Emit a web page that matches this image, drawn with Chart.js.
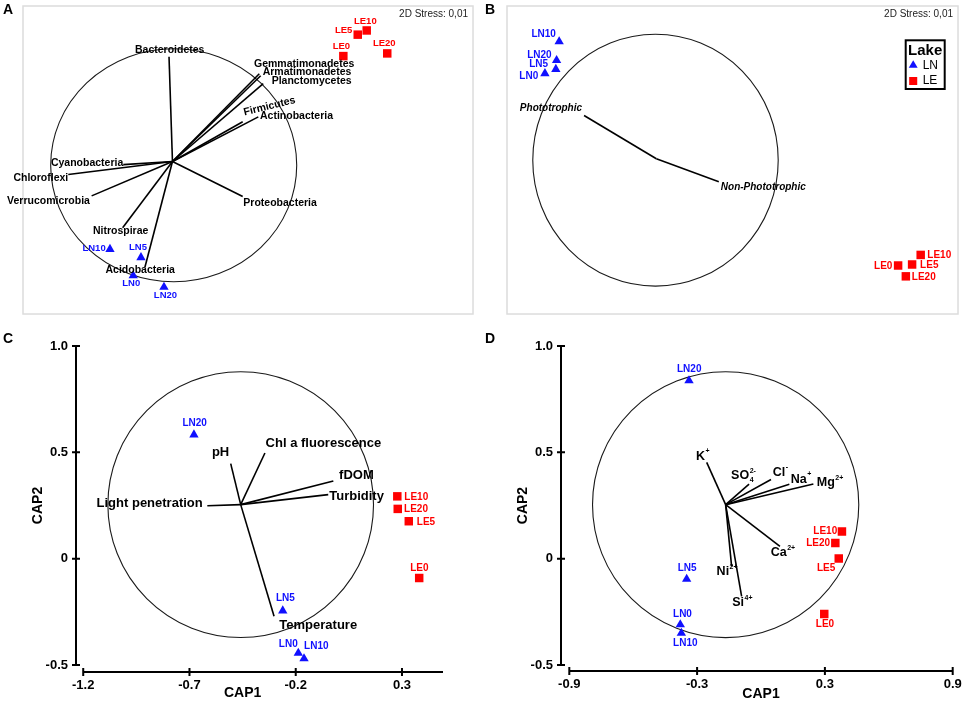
<!DOCTYPE html>
<html>
<head>
<meta charset="utf-8">
<title>nMDS and CAP ordinations</title>
<script src="https://cdn.jsdelivr.net/npm/chart.js@4.4.1/dist/chart.umd.min.js"></script>
<style>
  body { margin: 0; background: #fff; }
  #wrap { position: relative; width: 964px; height: 705px; overflow: hidden; font-family: 'Liberation Sans', Arial, sans-serif; }
  canvas { position: absolute; }
  .letter { position: absolute; font-size: 14px; font-weight: bold; line-height: 14px; z-index: 2; }
</style>
</head>
<body>
<div id="wrap">
  <canvas id="chartA" width="480" height="320" style="left:0;top:0"></canvas>
  <canvas id="chartB" width="484" height="320" style="left:480px;top:0"></canvas>
  <canvas id="chartC" width="480" height="385" style="left:0;top:320px"></canvas>
  <canvas id="chartD" width="484" height="385" style="left:480px;top:320px"></canvas>
  <div class="letter" style="left:3px;top:2px">A</div>
  <div class="letter" style="left:485px;top:2px">B</div>
  <div class="letter" style="left:3px;top:331px">C</div>
  <div class="letter" style="left:485px;top:331px">D</div>
</div>
<script>
// sample names, same order in every panel
const lnNames = ['LN0', 'LN5', 'LN10', 'LN20'];
const leNames = ['LE0', 'LE5', 'LE10', 'LE20'];

// A - nMDS of phyla
const aLnX = [-0.319, -0.256, -0.508, -0.069];
const aLnY = [-0.979, -0.824, -0.753, -1.078];
const aLeX = [1.389, 1.506, 1.579, 1.746];
const aLeY = [0.905, 1.089, 1.125, 0.928];
const aVecNames = ['Bacteroidetes', 'Gemmatimonadetes', 'Armatimonadetes', 'Planctomycetes', 'Firmicutes', 'Actinobacteria',
    'Proteobacteria', 'Cyanobacteria', 'Chloroflexi', 'Verrucomicrobia', 'Nitrospirae', 'Acidobacteria'];
const aVecX = [-0.028, 0.706, 0.717, 0.738, 0.571, 0.698, 0.571, -0.400, -0.847, -0.657, -0.405, -0.224];
const aVecY = [0.900, 0.753, 0.736, 0.668, 0.341, 0.383, -0.301, -0.027, -0.112, -0.295, -0.569, -0.908];
const aOrigin = [0, 0];
const aCircle = [0.01, -0.032, 1.0];

// B - nMDS of trophic groups
const bLnX = [-0.908, -0.819, -0.792, -0.813];
const bLnY = [0.677, 0.711, 0.930, 0.781];
const bLeX = [1.970, 2.084, 2.154, 2.033];
const bLeY = [-0.847, -0.839, -0.763, -0.933];
const bVecNames = ['Phototrophic', 'Non-Phototrophic'];
const bVecX = [-0.589, 0.509];
const bVecY = [0.344, -0.183];
const bOrigin = [0, 0];
const bCircle = [-0.007, -0.011, 1.0];

const stressText = '2D Stress: 0,01';
const legendTitle = 'Lake';

// C - CAP, physical variables
const cLnX = [-0.188, -0.261, -0.161, -0.679];
const cLnY = [-0.444, -0.245, -0.470, 0.583];
const cLeX = [0.381, 0.332, 0.278, 0.280];
const cLeY = [-0.091, 0.176, 0.293, 0.234];
const cVecNames = ['pH', 'Chl a fluorescence', 'fDOM', 'Turbidity', 'Light penetration', 'Temperature'];
const cVecX = [-0.506, -0.345, -0.023, -0.047, -0.616, -0.302];
const cVecY = [0.447, 0.497, 0.365, 0.301, 0.249, -0.271];
const cOrigin = [-0.459, 0.254];
const cCircle = [-0.459, 0.254, 0.625];
const cXTicks = [-1.2, -0.7, -0.2, 0.3];
const cXTickLabels = ['-1.2', '-0.7', '-0.2', '0.3'];

// D - CAP, ions
const dLnX = [-0.379, -0.349, -0.374, -0.338];
const dLnY = [-0.310, -0.096, -0.350, 0.837];
const dLeX = [0.297, 0.365, 0.380, 0.349];
const dLeY = [-0.260, 0.001, 0.128, 0.074];
const dVecBase = ['K', 'SO', 'Cl', 'Na', 'Mg', 'Ca', 'Ni', 'Si'];
const dVecSub = ['', '4', '', '', '', '', '', ''];
const dVecSup = ['+', '2-', '-', '+', '2+', '2+', '2+', '4+'];
const dVecX = [-0.255, -0.056, 0.047, 0.133, 0.246, 0.089, -0.138, -0.091];
const dVecY = [0.453, 0.351, 0.372, 0.350, 0.351, 0.058, -0.036, -0.177];
const dOrigin = [-0.166, 0.254];
const dCircle = [-0.166, 0.254, 0.625];
const dXTicks = [-0.9, -0.3, 0.3, 0.9];
const dXTickLabels = ['-0.9', '-0.3', '0.3', '0.9'];

const capYTicks = [-0.5, 0, 0.5, 1.0];
const capYTickLabels = ['-0.5', '0', '0.5', '1.0'];
const capXTitle = 'CAP1';
const capYTitle = 'CAP2';

// label placement: [align, dx px, dy px, rotation deg]
const aLnPlace = [['center', -2, 8.3], ['center', -3, -10], ['right', -4.3, -0.6], ['center', 1.5, 8]];
const aLePlace = [['center', -2, -9.4], ['right', -5.4, -4.3], ['center', -1.4, -9.4], ['center', -3, -10]];
const aVecPlace = [['center', 0.7, -6.6], ['left', -5.3, -10], ['left', 2, -4], ['left', 8.4, -2.7], ['left', 1, -9, -14],
    ['left', 1.7, -0.6], ['left', 0.6, 6.3], ['right', 0, -2], ['right', 0, 4], ['right', -1.7, 5], ['center', -2, 3.3], ['center', -4.7, 2.6]];
const bLnPlace = [['right', -6.7, 3], ['right', -7.7, -4.6], ['right', -3.3, -7], ['right', -5, -5]];
const bLePlace = [['right', -5.7, 0.6], ['left', 8, 1], ['left', 6.6, 0.7], ['left', 6, 0.6]];
const bVecPlace = [['right', -2, -7.6], ['left', 2, 5.6]];
const cLnPlace = [['center', -10, -9], ['center', 2.6, -12.7], ['center', 12.3, -12.3], ['center', 0.7, -11.3]];
const cLePlace = [['center', 0.2, -10], ['left', 8, 0.6], ['left', 7, 0.6], ['left', 6.3, 0.7]];
const cVecPlace = [['right', -1.5, -10.7], ['left', 0.7, -10], ['left', 5.7, -5.6], ['left', 1, 1.7], ['right', -4.6, -2.7], ['left', 5.3, 9.3]];
const dLnPlace = [['center', 2.2, -10], ['center', 0.5, -11], ['center', 4, 10], ['center', 0.2, -11.7]];
const dLePlace = [['center', 0.7, 10], ['center', -12.7, 10], ['right', -4.7, 0], ['right', -5.3, 0]];
const dVecPlace = [[-10.7, -6], [-18, -8.3], [1.7, -7.3], [1.4, -4.7], [3.4, -1], [-9.3, 6.6], [-15, 5.6], [-9.4, 6.6]];

const BLUE = '#1010ff';
const RED = '#ff0000';
const FONT = "'Liberation Sans', Arial, sans-serif";

function pts(xs, ys) {
    return xs.map((x, i) => ({ x: x, y: ys[i] }));
}

function sampleSets(lnX, lnY, leX, leY) {
    return [
        { label: 'LN', data: pts(lnX, lnY), pointStyle: 'triangle', pointRadius: 5.4, backgroundColor: BLUE, borderColor: BLUE, borderWidth: 0 },
        { label: 'LE', data: pts(leX, leY), pointStyle: 'rect', pointRadius: 6, backgroundColor: RED, borderColor: RED, borderWidth: 0 }
    ];
}

function vectorSets(origin, vx, vy) {
    return vx.map((x, i) => ({
        label: 'v' + i,
        data: [{ x: origin[0], y: origin[1] }, { x: x, y: vy[i] }],
        showLine: true,
        borderColor: '#000',
        borderWidth: 1.6,
        pointRadius: 0
    }));
}

function drawLabels(ctx, sx, sy, names, xs, ys, place, font, color) {
    ctx.font = font;
    ctx.fillStyle = color;
    ctx.textBaseline = 'middle';
    names.forEach((n, i) => {
        const p = place[i];
        const px = sx.getPixelForValue(xs[i]) + p[1];
        const py = sy.getPixelForValue(ys[i]) + p[2];
        ctx.textAlign = p[0];
        if (p[3]) {
            ctx.save();
            ctx.translate(px, py);
            ctx.rotate(p[3] * Math.PI / 180);
            ctx.fillText(n, 0, 0);
            ctx.restore();
        } else {
            ctx.fillText(n, px, py);
        }
    });
}

// circle, box, labels, axes and legend on top of the scatter
function overlay(cfg) {
    return {
        id: 'overlay',
        beforeDatasetsDraw(chart) {
            const { ctx, chartArea: ca, scales: { x, y } } = chart;
            ctx.save();
            if (cfg.box) {
                ctx.strokeStyle = '#dcdcdc';
                ctx.lineWidth = 1.5;
                ctx.strokeRect(ca.left, ca.top, ca.right - ca.left, ca.bottom - ca.top);
            }
            const c = cfg.circle;
            const cx = x.getPixelForValue(c[0]);
            const cy = y.getPixelForValue(c[1]);
            const rx = x.getPixelForValue(c[0] + c[2]) - cx;
            const ry = cy - y.getPixelForValue(c[1] + c[2]);
            ctx.beginPath();
            ctx.ellipse(cx, cy, rx, ry, 0, 0, Math.PI * 2);
            ctx.strokeStyle = '#1a1a1a';
            ctx.lineWidth = 1.1;
            ctx.stroke();
            ctx.restore();
        },
        afterDatasetsDraw(chart) {
            const { ctx, chartArea: ca, scales: { x, y } } = chart;
            ctx.save();
            const sf = 'bold ' + cfg.sampleSize + 'px ' + FONT;
            drawLabels(ctx, x, y, lnNames, cfg.ln[0], cfg.ln[1], cfg.lnPlace, sf, BLUE);
            drawLabels(ctx, x, y, leNames, cfg.le[0], cfg.le[1], cfg.lePlace, sf, RED);
            if (cfg.vecNames) {
                drawLabels(ctx, x, y, cfg.vecNames, cfg.vec[0], cfg.vec[1], cfg.vecPlace, cfg.vecFont, '#000');
            }
            if (cfg.ions) {
                ctx.fillStyle = '#000';
                ctx.textBaseline = 'middle';
                ctx.textAlign = 'left';
                dVecBase.forEach((b, i) => {
                    const px = x.getPixelForValue(dVecX[i]) + dVecPlace[i][0];
                    const py = y.getPixelForValue(dVecY[i]) + dVecPlace[i][1];
                    ctx.font = 'bold 12.5px ' + FONT;
                    ctx.fillText(b, px, py);
                    const w = ctx.measureText(b).width + 0.5;
                    ctx.font = 'bold 7px ' + FONT;
                    ctx.fillText(dVecSup[i], px + w, py - 5);
                    if (dVecSub[i]) ctx.fillText(dVecSub[i], px + w, py + 4);
                });
            }
            if (cfg.stress) {
                ctx.font = '10px ' + FONT;
                ctx.fillStyle = '#222';
                ctx.textAlign = 'right';
                ctx.textBaseline = 'middle';
                ctx.fillText(stressText, ca.right - 5, ca.top + 8.5);
            }
            ctx.restore();
        },
        afterDraw(chart) {
            const { ctx, chartArea: ca, scales: { x, y } } = chart;
            ctx.save();
            if (cfg.axes) {
                const xt = cfg.xTicks;
                const axY = ca.bottom, axX = ca.left;
                const yTop = y.getPixelForValue(capYTicks[capYTicks.length - 1]);
                const yBot = y.getPixelForValue(capYTicks[0]);
                const xL = x.getPixelForValue(xt[0]);
                ctx.strokeStyle = '#000';
                ctx.lineWidth = 2;
                ctx.beginPath();
                ctx.moveTo(axX, yTop); ctx.lineTo(axX, yBot);
                ctx.moveTo(xL, axY); ctx.lineTo(ca.right, axY);
                capYTicks.forEach(v => {
                    const p = y.getPixelForValue(v);
                    ctx.moveTo(axX - 4, p); ctx.lineTo(axX + 4, p);
                });
                xt.forEach(v => {
                    const p = x.getPixelForValue(v);
                    ctx.moveTo(p, axY - 4); ctx.lineTo(p, axY + 4);
                });
                ctx.stroke();
                ctx.font = 'bold 14px ' + FONT;
                ctx.fillStyle = '#000';
                ctx.textAlign = 'center';
                ctx.textBaseline = 'middle';
                ctx.fillText(capXTitle, (xL + x.getPixelForValue(xt[xt.length - 1])) / 2, axY + cfg.xTitleGap);
                ctx.translate(axX - 38, (yTop + yBot) / 2);
                ctx.rotate(-Math.PI / 2);
                ctx.fillText(capYTitle, 0, 0);
            }
            if (cfg.legend) {
                const bx = ca.right - 52.3, by = ca.top + 34.3;
                ctx.strokeStyle = '#000';
                ctx.lineWidth = 2;
                ctx.strokeRect(bx, by, 39, 48.7);
                ctx.fillStyle = '#000';
                ctx.textBaseline = 'middle';
                ctx.textAlign = 'center';
                ctx.font = 'bold 15px ' + FONT;
                ctx.fillText(legendTitle, bx + 19.5, by + 10.5);
                ctx.textAlign = 'left';
                ctx.font = '12px ' + FONT;
                chart.data.datasets.slice(0, 2).forEach((ds, i) => {
                    const ly = by + 25 + i * 15.7;
                    ctx.fillStyle = ds.backgroundColor;
                    Chart.helpers.drawPoint(ctx, { pointStyle: ds.pointStyle, radius: ds.pointRadius * 0.95, rotation: 0, borderWidth: 0 }, bx + 7.5, ly);
                    ctx.fillStyle = '#000';
                    ctx.fillText(ds.label, bx + 17, ly);
                });
            }
            ctx.restore();
        }
    };
}

function hiddenScales(xr, yr) {
    return {
        x: { type: 'linear', display: false, min: xr[0], max: xr[1] },
        y: { type: 'linear', display: false, min: yr[0], max: yr[1] }
    };
}

function capScales(xr, yr, xTicks, xLabels, yWidth, xHeight) {
    const tickFont = { family: FONT, size: 13, weight: 'bold' };
    const grid = { display: true, drawOnChartArea: false, drawTicks: true, tickLength: 6, color: 'rgba(0,0,0,0)' };
    return {
        x: {
            type: 'linear', min: xr[0], max: xr[1],
            afterBuildTicks: s => { s.ticks = xTicks.map(v => ({ value: v })); },
            afterFit: s => { s.height = xHeight; },
            ticks: { callback: (v, i) => xLabels[i], font: tickFont, color: '#000', padding: 0, maxRotation: 0, autoSkip: false },
            grid: grid,
            border: { display: false }
        },
        y: {
            type: 'linear', min: yr[0], max: yr[1],
            afterBuildTicks: s => { s.ticks = capYTicks.map(v => ({ value: v })); },
            afterFit: s => { s.width = yWidth; },
            ticks: { callback: (v, i) => capYTickLabels[i], font: tickFont, color: '#000', padding: 2, autoSkip: false },
            grid: grid,
            border: { display: false }
        }
    };
}

function makeChart(id, datasets, scales, padding, cfg) {
    return new Chart(document.getElementById(id), {
        type: 'scatter',
        data: { datasets: datasets },
        options: {
            responsive: false,
            animation: false,
            layout: { padding: padding },
            plugins: { legend: { display: false }, tooltip: { enabled: false } },
            scales: scales
        },
        plugins: [overlay(cfg)]
    });
}

makeChart('chartA',
    sampleSets(aLnX, aLnY, aLeX, aLeY).concat(vectorSets(aOrigin, aVecX, aVecY)),
    hiddenScales([-1.215, 2.443], [-1.309, 1.335]),
    { left: 23, top: 2, right: 7, bottom: 6 },
    { box: true, stress: true, circle: aCircle, ln: [aLnX, aLnY], le: [aLeX, aLeY], lnPlace: aLnPlace, lePlace: aLePlace,
      sampleSize: 9.5, vecNames: aVecNames, vec: [aVecX, aVecY], vecPlace: aVecPlace, vecFont: 'bold 10.5px ' + FONT });

makeChart('chartB',
    sampleSets(bLnX, bLnY, bLeX, bLeY).concat(vectorSets(bOrigin, bVecX, bVecY)),
    hiddenScales([-1.217, 2.458], [-1.232, 1.213]),
    { left: 27, top: 3, right: 5, bottom: 4 },
    { box: true, stress: true, legend: true, circle: bCircle, ln: [bLnX, bLnY], le: [bLeX, bLeY], lnPlace: bLnPlace, lePlace: bLePlace,
      sampleSize: 10, vecNames: bVecNames, vec: [bVecX, bVecY], vecPlace: bVecPlace, vecFont: 'italic bold 10px ' + FONT });

makeChart('chartC',
    sampleSets(cLnX, cLnY, cLeX, cLeY).concat(vectorSets(cOrigin, cVecX, cVecY)),
    capScales([-1.234, 0.493], [-0.533, 1.0], cXTicks, cXTickLabels, 76, 33),
    { left: 0, top: 26, right: 37, bottom: 0 },
    { axes: true, xTicks: cXTicks, xTitleGap: 21, circle: cCircle, ln: [cLnX, cLnY], le: [cLeX, cLeY], lnPlace: cLnPlace, lePlace: cLePlace,
      sampleSize: 10, vecNames: cVecNames, vec: [cVecX, cVecY], vecPlace: cVecPlace, vecFont: 'bold 13px ' + FONT });

makeChart('chartD',
    sampleSets(dLnX, dLnY, dLeX, dLeY).concat(vectorSets(dOrigin, dVecX, dVecY)),
    capScales([-0.939, 0.9], [-0.528, 1.0], dXTicks, dXTickLabels, 81, 34),
    { left: 0, top: 26, right: 11.3, bottom: 0 },
    { axes: true, xTicks: dXTicks, xTitleGap: 23, circle: dCircle, ln: [dLnX, dLnY], le: [dLeX, dLeY], lnPlace: dLnPlace, lePlace: dLePlace,
      sampleSize: 10, ions: true });
</script>
</body>
</html>
